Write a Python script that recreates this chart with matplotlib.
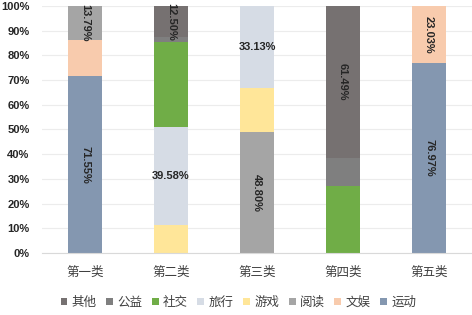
import numpy as np
import matplotlib.pyplot as plt

plt.rcParams['font.family'] = ['Noto Sans CJK SC', 'DejaVu Sans']

# categories and stacked series (percent), bottom to top
categories = ['第一类', '第二类', '第三类', '第四类', '第五类']
series_names = ['运动', '文娱', '阅读', '游戏', '旅行', '社交', '公益', '其他']
yundong = [71.55, 0, 0, 0, 76.97]
wenyu = [14.66, 0, 0, 0, 23.03]
yuedu = [13.79, 0, 48.80, 0, 0]
youxi = [0, 11.46, 18.07, 0, 0]
lvxing = [0, 39.58, 33.13, 0, 0]
shejiao = [0, 34.38, 0, 27.10, 0]
gongyi = [0, 2.08, 0, 11.41, 0]
qita = [0, 12.50, 0, 61.49, 0]

# which segments get a label, and whether it is rotated
labels = [
    (0, '运动', 71.55, True), (0, '阅读', 13.79, True),
    (1, '旅行', 39.58, False), (1, '其他', 12.50, True),
    (2, '阅读', 48.80, True), (2, '旅行', 33.13, False),
    (3, '其他', 61.49, True),
    (4, '运动', 76.97, True), (4, '文娱', 23.03, True),
]

colors = {'运动': '#8497b0', '文娱': '#f8cbad', '阅读': '#a5a5a5', '游戏': '#ffe699',
          '旅行': '#d6dce5', '社交': '#70ad47', '公益': '#7f7f7f', '其他': '#767171'}

data = [yundong, wenyu, yuedu, youxi, lvxing, shejiao, gongyi, qita]

fig = plt.figure(figsize=(4.72, 3.15), dpi=100)
ax = fig.add_axes([0.089, 0.197, 0.911, 0.784])

x = np.arange(len(categories))
bottom = np.zeros(len(categories))
bottoms = {}
handles = []
for name, vals in zip(series_names, data):
    vals = np.array(vals)
    b = ax.bar(x, vals, 0.4, bottom=bottom, color=colors[name], label=name,
               linewidth=0, zorder=2)
    bottoms[name] = bottom.copy()
    handles.append(b)
    bottom = bottom + vals

for i, name, v, rot in labels:
    yc = bottoms[name][i] + v / 2
    ax.text(i, yc, '%.2f%%' % v, ha='center', va='center',
            rotation=-90 if rot else 0, fontsize=8, fontweight='bold',
            family='Liberation Sans', color='#262626', zorder=3)

ax.set_xlim(-0.5, len(categories) - 0.5)
ax.set_ylim(0, 100)
ax.set_yticks(np.arange(0, 101, 10))
ax.set_yticklabels(['%d%%' % v for v in range(0, 101, 10)], fontsize=8,
                   fontweight='bold', family='Liberation Sans', color='#262626')
ax.set_xticks(x)
ax.set_xticklabels(categories, fontsize=9, color='#404040')
ax.tick_params(length=0)
ax.tick_params(axis='y', pad=9)
ax.tick_params(axis='x', pad=9)
ax.yaxis.grid(True, color='#ececec', linewidth=0.8, zorder=0)
for s in ['top', 'right', 'left']:
    ax.spines[s].set_visible(False)
ax.spines['bottom'].set_color('#d9d9d9')

leg = fig.legend(handles[::-1], series_names[::-1], loc='center', ncol=8,
                 bbox_to_anchor=(0.505, 0.04), frameon=False, fontsize=9,
                 handlelength=0.55, handleheight=0.55, handletextpad=0.35,
                 columnspacing=0.75)
for t in leg.get_texts():
    t.set_color('#404040')

fig.savefig('out.png', dpi=100)
